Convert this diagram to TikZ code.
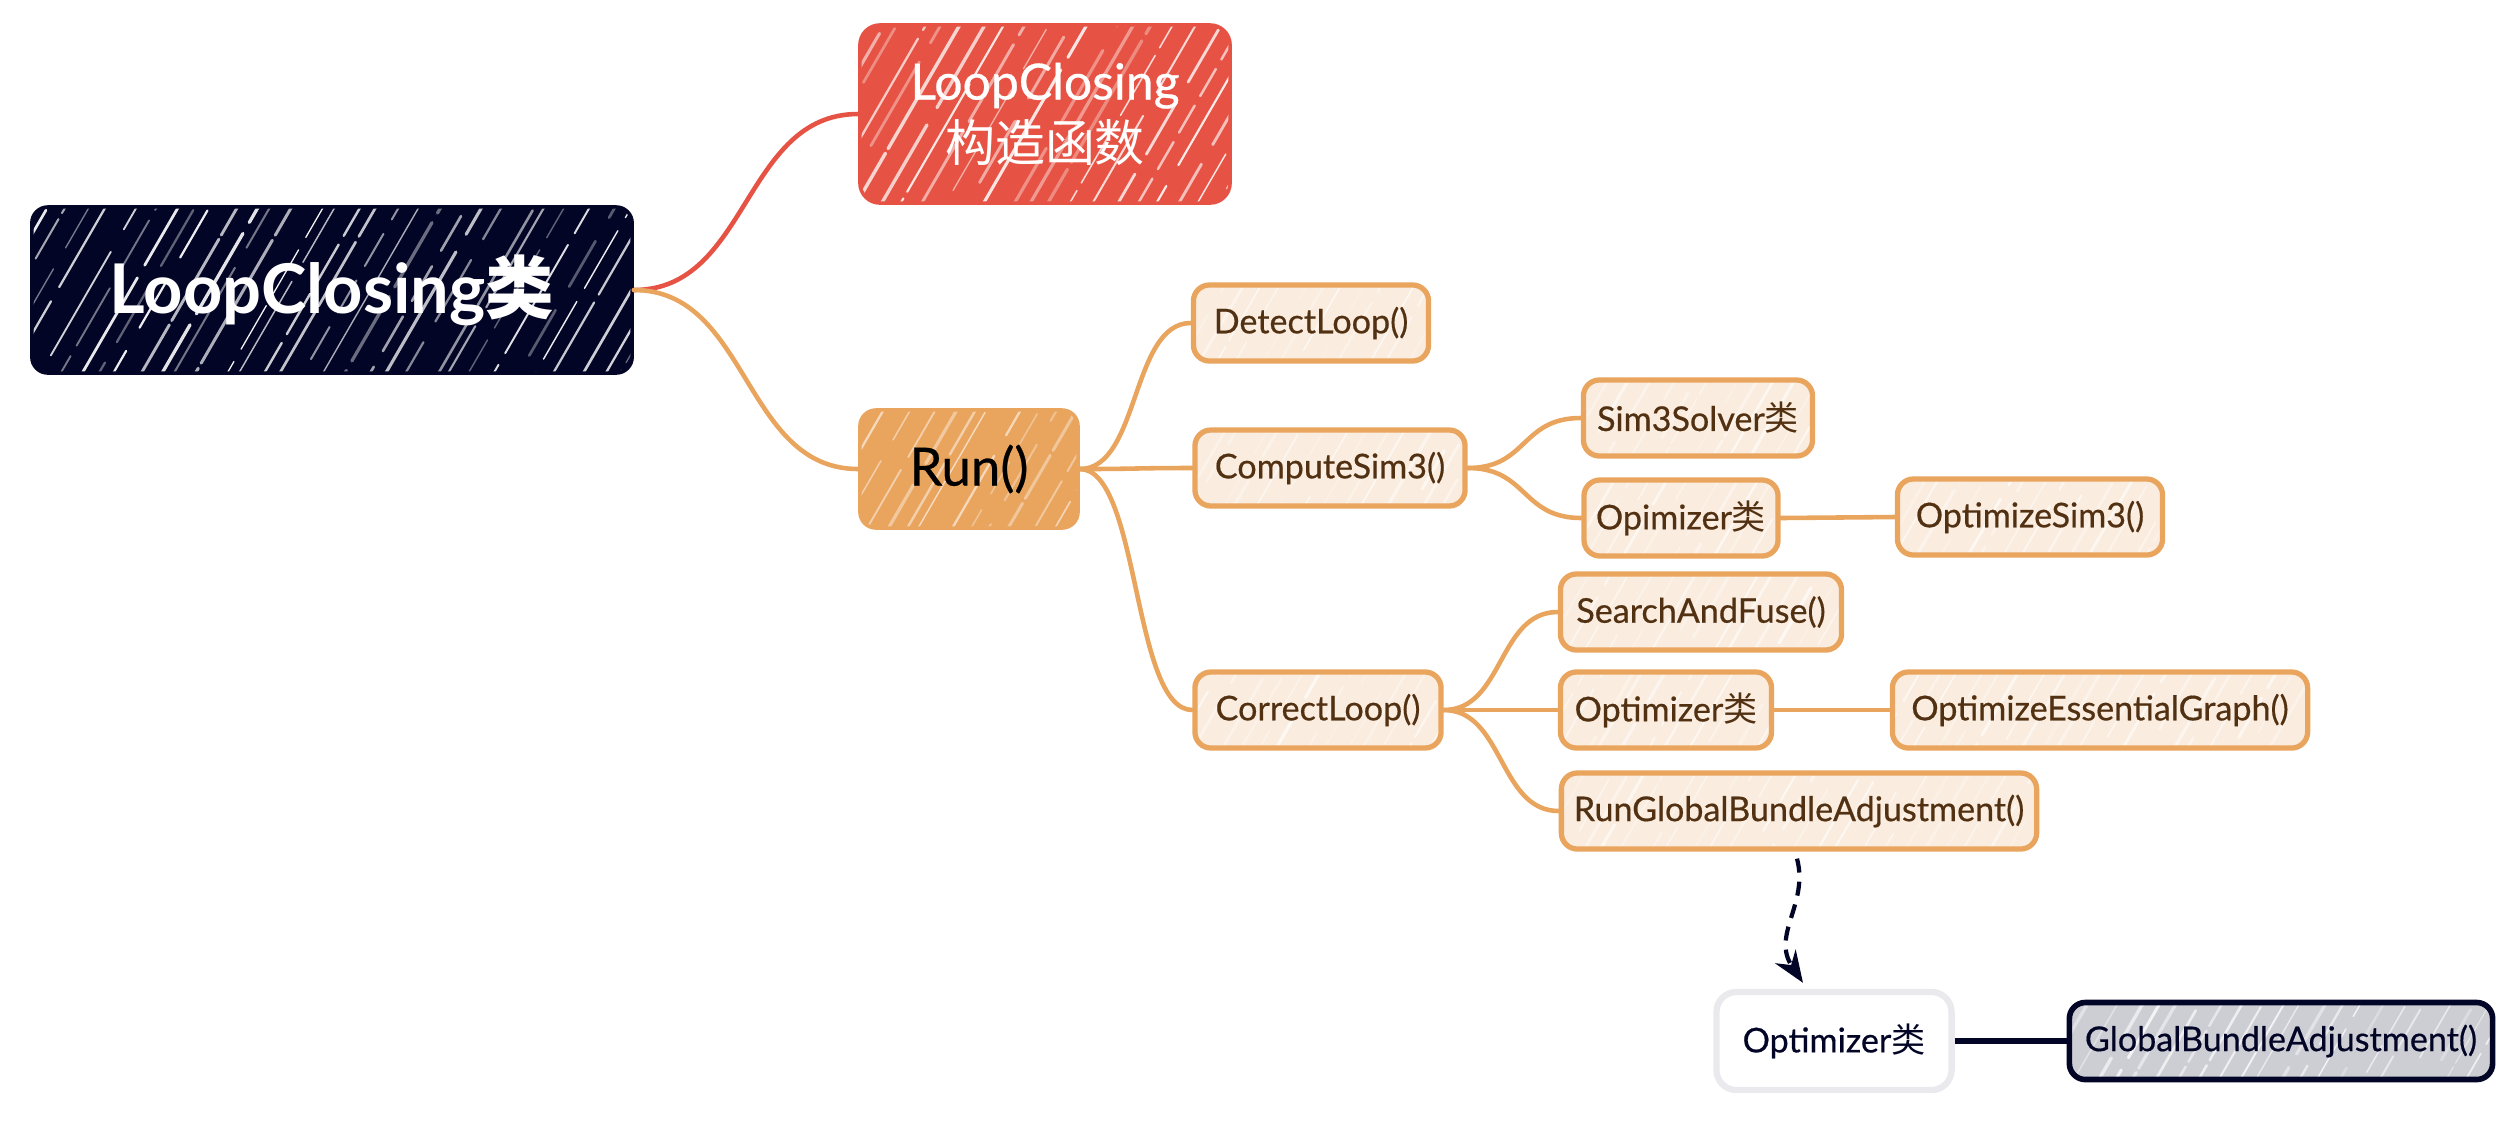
\documentclass[tikz,border=0pt]{standalone}
\usepackage{fontspec}
\setmainfont{Lato}
\newfontfamily\medfont{Lato}[FakeBold=0.5]
\newfontfamily\cjk{Noto Sans CJK SC}
\usetikzlibrary{calc,arrows.meta}
\definecolor{navy}{RGB}{3,5,38}
\definecolor{redc}{RGB}{230,82,67}
\definecolor{orng}{RGB}{233,164,93}
\definecolor{cream}{RGB}{250,236,222}
\definecolor{brn}{RGB}{82,48,18}
\definecolor{lgray}{RGB}{234,234,238}
\definecolor{gfill}{RGB}{205,206,212}
\tikzset{
  hach/.style={path picture={
    \foreach \i in {0,...,36}{
      \pgfmathsetmacro\dx{\i*0.21+0.14*rnd-1.1}
      \pgfmathsetmacro\op{#1*(0.35+0.65*rnd)}
      \pgfmathsetmacro\lw{0.35+0.65*rnd}
      \pgfmathsetmacro\da{0.3+1.4*rnd}
      \pgfmathsetmacro\db{0.04+0.25*rnd}
      \pgfmathsetmacro\dp{1.5*rnd}
      \draw[white, line width=\lw pt, opacity=\op, line cap=round,
            dash pattern=on \da cm off \db cm, dash phase=\dp cm]
        ($(path picture bounding box.south west)+(\dx cm,0cm)$) -- ++(1.1cm,1.9cm);
    }
  }},
  hach/.default=1,
  base/.style={rectangle, rounded corners=0.16cm, inner sep=0pt, align=center},
  rootbox/.style={base, fill=navy, draw=navy, line width=1pt, text=white, hach=0.95,
    font=\fontsize{19.5}{22}\selectfont\bfseries},
  redbox/.style={base, fill=redc, draw=redc, line width=1pt, text=white, hach=0.9,
    rounded corners=0.2cm, font=\fontsize{14.2}{17.5}\selectfont\medfont},
  runbox/.style={base, fill=orng, draw=orng, line width=1pt, text=black, hach=0.75,
    font=\fontsize{15}{17}\selectfont\medfont},
  light/.style={base, fill=cream, draw=orng, line width=1.5pt, text=brn, hach=0.65,
    font=\fontsize{9.7}{11}\selectfont\medfont, minimum height=0.76cm},
  whitebox/.style={base, fill=white, draw=lgray, line width=1.8pt, text=navy,
    rounded corners=0.2cm, font=\fontsize{9.7}{11}\selectfont\medfont},
  graybox/.style={base, fill=gfill, draw=navy, line width=1.6pt, text=navy, hach=0.8,
    font=\fontsize{9.7}{11}\selectfont\medfont},
  oline/.style={draw=orng, line width=1.3pt, line cap=round},
  rline/.style={draw=redc, line width=1.3pt, line cap=round},
  nline/.style={draw=navy, line width=1.8pt},
  dasharrow/.style={draw=navy, line width=1.2pt, dash pattern=on 4pt off 2.6pt,
    -{Stealth[length=9pt,width=7pt]}},
}
\begin{document}
\begin{tikzpicture}[x=0.01cm, y=-0.01cm]
\pgfmathsetseed{7}
\useasboundingbox (0,0) rectangle (2508,1120);

% nodes
\node[rootbox, minimum width=6cm, minimum height=1.66cm] (root) at (332,290) {LoopClosing{\cjk 类}};
\node[redbox, minimum width=3.7cm, minimum height=1.78cm] (ctor) at (1045,114) {LoopClosing\\{\cjk 构造函数}};
\node[runbox, minimum width=2.18cm, minimum height=1.18cm] (run) at (969,469) {Run()};

\node[light, minimum width=2.35cm] (detect) at (1311,323) {DetectLoop()};
\node[light, minimum width=2.70cm] (compute) at (1330,468) {ComputeSim3()};
\node[light, minimum width=2.46cm] (correct) at (1318,710) {CorrectLoop()};

\node[light, minimum width=2.29cm] (solver) at (1698,418) {Sim3Solver{\cjk 类}};
\node[light, minimum width=1.94cm] (opim) at (1681,518) {Opimizer{\cjk 类}};
\node[light, minimum width=2.65cm] (optsim) at (2030,517) {OptimizeSim3()};

\node[light, minimum width=2.81cm] (fuse) at (1701,612) {SearchAndFuse()};
\node[light, minimum width=2.11cm] (optz) at (1666,710) {Optimizer{\cjk 类}};
\node[light, minimum width=4.15cm] (ess) at (2100,710) {OptimizeEssentialGraph()};
\node[light, minimum width=4.75cm] (rgba) at (1799,811) {RunGlobalBundleAdjustment()};

\node[whitebox, minimum width=2.35cm, minimum height=0.98cm] (wopt) at (1834,1041) {Optimizer{\cjk 类}};
\node[graybox, minimum width=4.23cm, minimum height=0.77cm] (gba) at (2281,1041) {GlobalBundleAdjustment()};

% connectors
\draw[rline] (root.east) .. controls +(115,0) and +(-115,0) .. (ctor.west);
\draw[oline] (root.east) .. controls +(115,0) and +(-115,0) .. (run.west);

\draw[oline] (run.east) .. controls +(60,0) and +(-60,0) .. (detect.west);
\draw[oline] (run.east) .. controls +(60,0) and +(-60,0) .. (compute.west);
\draw[oline] (run.east) .. controls +(60,0) and +(-60,0) .. (correct.west);

\draw[oline] (compute.east) .. controls +(60,0) and +(-60,0) .. (solver.west);
\draw[oline] (compute.east) .. controls +(60,0) and +(-60,0) .. (opim.west);
\draw[oline] (opim.east) -- (optsim.west);

\draw[oline] (correct.east) .. controls +(60,0) and +(-60,0) .. (fuse.west);
\draw[oline] (correct.east) .. controls +(60,0) and +(-60,0) .. (optz.west);
\draw[oline] (correct.east) .. controls +(60,0) and +(-60,0) .. (rgba.west);
\draw[oline] (optz.east) -- (ess.west);

\draw[dasharrow] ([yshift=-0.07cm,xshift=-0.02cm]rgba.south) .. controls +(12,45) and +(-32,-48) .. ([yshift=0.06cm,xshift=-0.31cm]wopt.north);
\draw[nline] (wopt.east) -- (gba.west);
\end{tikzpicture}
\end{document}
